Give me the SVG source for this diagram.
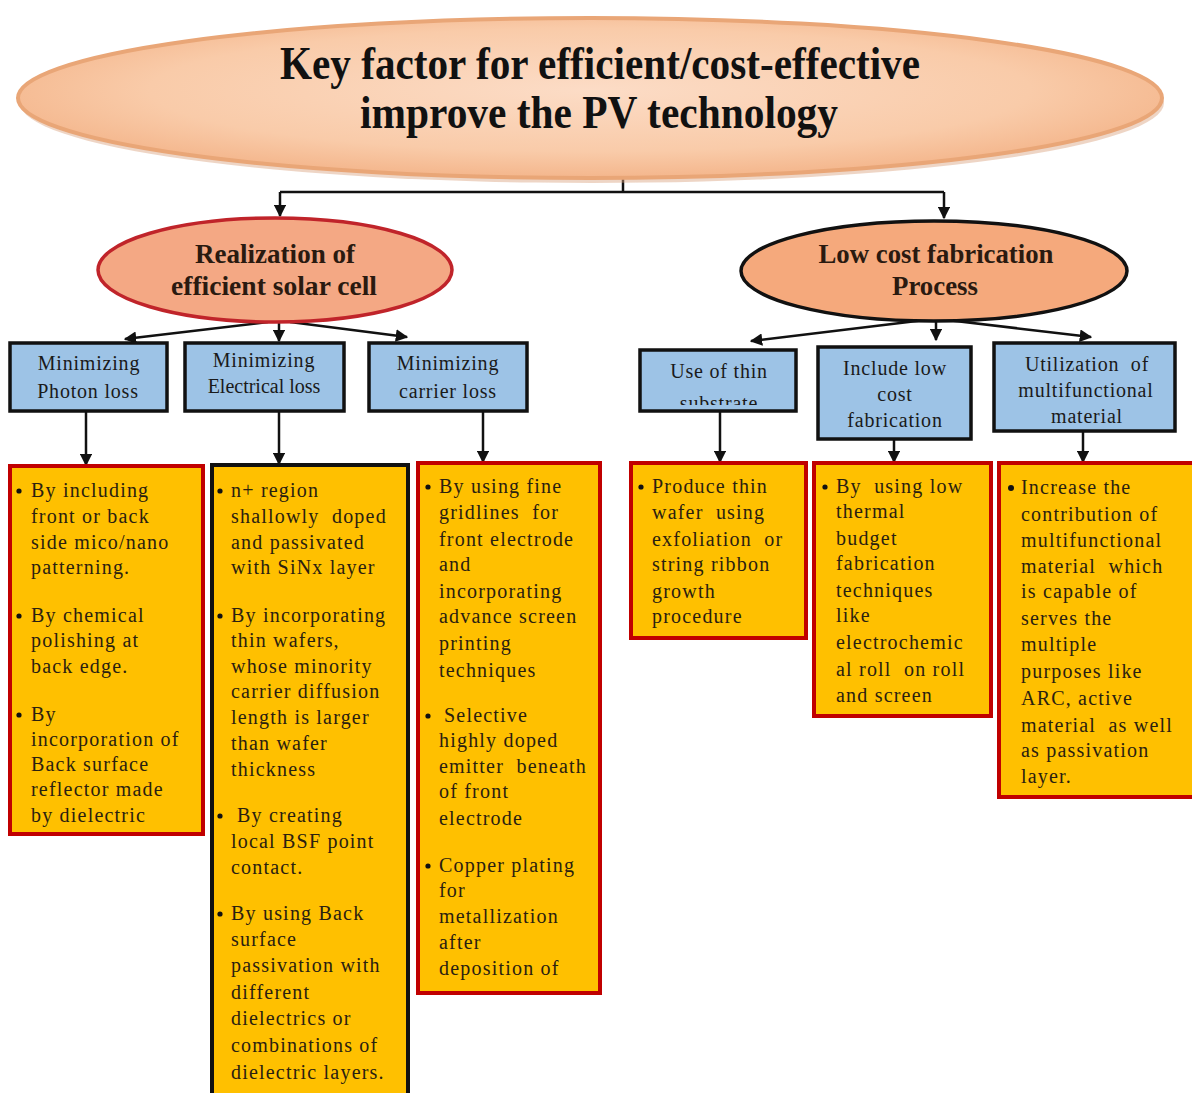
<svg xmlns="http://www.w3.org/2000/svg" width="1192" height="1093" viewBox="0 0 1192 1093">
<style>
  text{white-space:pre}
  .title{font-family:"Liberation Serif","Times New Roman",serif;font-weight:bold;font-size:46px;fill:#111;text-anchor:middle}
  .sub{font-family:"Liberation Serif","Times New Roman",serif;font-weight:bold;font-size:27px;fill:#2a1a10;text-anchor:middle}
  .blue{fill:#9DC3E6;stroke:#111;stroke-width:3.5}
  .bt{font-family:"Liberation Serif","Times New Roman",serif;font-size:20px;fill:#1a1a1a;text-anchor:middle;letter-spacing:0.8px}
  .org{fill:#FFC000;stroke:#C00000;stroke-width:4}
  .orgk{fill:#FFC000;stroke:#111;stroke-width:4}
  .ot{font-family:"Liberation Serif","Times New Roman",serif;font-size:20px;fill:#2a2010;letter-spacing:1.2px}
  .bu{fill:#111}
  .con{stroke:#111;stroke-width:2.5;fill:none}
</style>
<defs>
  <radialGradient id="pg" cx="50%" cy="45%" r="55%">
    <stop offset="0" stop-color="#FCDCC6"/>
    <stop offset="0.7" stop-color="#F9CBA9"/>
    <stop offset="1" stop-color="#F4B68C"/>
  </radialGradient>
  <marker id="ah" viewBox="0 0 10 10" refX="9" refY="5" markerWidth="5" markerHeight="5" orient="auto" markerUnits="strokeWidth">
    <path d="M0,0 L10,5 L0,10 z" fill="#111"/>
  </marker>
  <clipPath id="clip4"><rect x="640" y="350" width="156" height="55"/></clipPath>
</defs>
<rect width="1192" height="1093" fill="#fff"/>

<g id="connectors">
  <line class="con" x1="623" y1="170" x2="623" y2="192"/>
  <line class="con" x1="280" y1="192" x2="944" y2="192"/>
  <line class="con" x1="280" y1="192" x2="280" y2="216" marker-end="url(#ah)"/>
  <line class="con" x1="944" y1="192" x2="944" y2="218" marker-end="url(#ah)"/>
  <line class="con" x1="268" y1="322" x2="125" y2="339" marker-end="url(#ah)"/>
  <line class="con" x1="279" y1="322" x2="279" y2="341" marker-end="url(#ah)"/>
  <line class="con" x1="290" y1="322" x2="407" y2="337" marker-end="url(#ah)"/>
  <line class="con" x1="925" y1="320" x2="751" y2="341" marker-end="url(#ah)"/>
  <line class="con" x1="936" y1="320" x2="936" y2="340" marker-end="url(#ah)"/>
  <line class="con" x1="947" y1="320" x2="1091" y2="337" marker-end="url(#ah)"/>
  <line class="con" x1="86" y1="412" x2="86" y2="465" marker-end="url(#ah)"/>
  <line class="con" x1="279" y1="412" x2="279" y2="464" marker-end="url(#ah)"/>
  <line class="con" x1="483" y1="405" x2="483" y2="462" marker-end="url(#ah)"/>
  <line class="con" x1="720" y1="404" x2="720" y2="462" marker-end="url(#ah)"/>
  <line class="con" x1="894" y1="432" x2="894" y2="462" marker-end="url(#ah)"/>
  <line class="con" x1="1083" y1="432" x2="1083" y2="462" marker-end="url(#ah)"/>
</g>

<g id="root">
  <ellipse cx="592" cy="103" rx="572" ry="80" fill="#D9A27E" opacity="0.45"/>
  <ellipse cx="590" cy="98" rx="572" ry="80" fill="url(#pg)" stroke="#E9A677" stroke-width="4"/>
  <text class="title" x="600" y="79" textLength="640" lengthAdjust="spacingAndGlyphs">Key factor for efficient/cost-effective</text>
  <text class="title" x="599" y="128" textLength="478" lengthAdjust="spacingAndGlyphs">improve the PV technology</text>
</g>

<g id="realization">
  <ellipse cx="275" cy="270" rx="177" ry="52" fill="#F4A884" stroke="#C0242A" stroke-width="3.5"/>
  <text class="sub" x="275" y="263" textLength="160" lengthAdjust="spacingAndGlyphs">Realization of</text>
  <text class="sub" x="274" y="295" textLength="206" lengthAdjust="spacingAndGlyphs">efficient solar cell</text>
</g>

<g id="lowcost">
  <ellipse cx="934" cy="271" rx="193" ry="50" fill="#F5A97C" stroke="#111" stroke-width="3.5"/>
  <text class="sub" x="936" y="263" textLength="235" lengthAdjust="spacingAndGlyphs">Low cost fabrication</text>
  <text class="sub" x="935" y="295" textLength="86" lengthAdjust="spacingAndGlyphs">Process</text>
</g>

<g id="photon">
  <rect class="blue" x="10" y="343" width="157" height="68"/>
  <text class="bt" x="89" y="370">Minimizing</text>
  <text class="bt" x="88" y="398">Photon loss</text>
</g>
<g id="electrical">
  <rect class="blue" x="185" y="343" width="159" height="68"/>
  <text class="bt" x="264" y="367">Minimizing</text>
  <text class="bt" x="264" y="393" style="letter-spacing:0px">Electrical loss</text>
</g>
<g id="carrier">
  <rect class="blue" x="369" y="343" width="158" height="68"/>
  <text class="bt" x="448" y="370">Minimizing</text>
  <text class="bt" x="448" y="398">carrier loss</text>
</g>
<g id="thin">
  <rect class="blue" x="640" y="350" width="156" height="61"/>
  <g clip-path="url(#clip4)">
    <text class="bt" x="719" y="378">Use of thin</text>
    <text class="bt" x="719" y="410">substrate</text>
  </g>
</g>
<g id="include">
  <rect class="blue" x="818" y="347" width="153" height="92"/>
  <text class="bt" x="895" y="375">Include low</text>
  <text class="bt" x="895" y="401">cost</text>
  <text class="bt" x="895" y="427">fabrication</text>
</g>
<g id="utilization">
  <rect class="blue" x="994" y="343" width="181" height="88"/>
  <text class="bt" x="1087" y="371">Utilization  of</text>
  <text class="bt" x="1086" y="397">multifunctional</text>
  <text class="bt" x="1087" y="423">material</text>
</g>

<g id="photon-detail">
  <rect class="org" x="10" y="466" width="193" height="368"/>
  <circle class="bu" cx="19" cy="491" r="2.6"/>
  <text class="ot" x="31" y="497">By including</text>
  <text class="ot" x="31" y="523">front or back</text>
  <text class="ot" x="31" y="549">side mico/nano</text>
  <text class="ot" x="31" y="574">patterning.</text>
  <circle class="bu" cx="19" cy="616" r="2.6"/>
  <text class="ot" x="31" y="622">By chemical</text>
  <text class="ot" x="31" y="647">polishing at</text>
  <text class="ot" x="31" y="673">back edge.</text>
  <circle class="bu" cx="19" cy="715" r="2.6"/>
  <text class="ot" x="31" y="721">By</text>
  <text class="ot" x="31" y="746">incorporation of</text>
  <text class="ot" x="31" y="771">Back surface</text>
  <text class="ot" x="31" y="796">reflector made</text>
  <text class="ot" x="31" y="822">by dielectric</text>
</g>

<g id="electrical-detail">
  <rect class="orgk" x="212" y="465" width="196" height="640"/>
  <circle class="bu" cx="220" cy="491" r="2.6"/>
  <text class="ot" x="231" y="497">n+ region</text>
  <text class="ot" x="231" y="523">shallowly  doped</text>
  <text class="ot" x="231" y="549">and passivated</text>
  <text class="ot" x="231" y="574">with SiNx layer</text>
  <circle class="bu" cx="220" cy="616" r="2.6"/>
  <text class="ot" x="231" y="622">By incorporating</text>
  <text class="ot" x="231" y="647">thin wafers,</text>
  <text class="ot" x="231" y="673">whose minority</text>
  <text class="ot" x="231" y="698">carrier diffusion</text>
  <text class="ot" x="231" y="724">length is larger</text>
  <text class="ot" x="231" y="750">than wafer</text>
  <text class="ot" x="231" y="776">thickness</text>
  <circle class="bu" cx="220" cy="816" r="2.6"/>
  <text class="ot" x="237" y="822">By creating</text>
  <text class="ot" x="231" y="848">local BSF point</text>
  <text class="ot" x="231" y="874">contact.</text>
  <circle class="bu" cx="220" cy="914" r="2.6"/>
  <text class="ot" x="231" y="920">By using Back</text>
  <text class="ot" x="231" y="946">surface</text>
  <text class="ot" x="231" y="972">passivation with</text>
  <text class="ot" x="231" y="999">different</text>
  <text class="ot" x="231" y="1025">dielectrics or</text>
  <text class="ot" x="231" y="1052">combinations of</text>
  <text class="ot" x="231" y="1079">dielectric layers.</text>
</g>

<g id="carrier-detail">
  <rect class="org" x="418" y="463" width="182" height="530"/>
  <circle class="bu" cx="428" cy="487" r="2.6"/>
  <text class="ot" x="439" y="493">By using fine</text>
  <text class="ot" x="439" y="519">gridlines  for</text>
  <text class="ot" x="439" y="546">front electrode</text>
  <text class="ot" x="439" y="571">and</text>
  <text class="ot" x="439" y="598">incorporating</text>
  <text class="ot" x="439" y="623">advance screen</text>
  <text class="ot" x="439" y="650">printing</text>
  <text class="ot" x="439" y="677">techniques</text>
  <circle class="bu" cx="428" cy="716" r="2.6"/>
  <text class="ot" x="444" y="722">Selective</text>
  <text class="ot" x="439" y="747">highly doped</text>
  <text class="ot" x="439" y="773">emitter  beneath</text>
  <text class="ot" x="439" y="798">of front</text>
  <text class="ot" x="439" y="825">electrode</text>
  <circle class="bu" cx="428" cy="866" r="2.6"/>
  <text class="ot" x="439" y="872">Copper plating</text>
  <text class="ot" x="439" y="897">for</text>
  <text class="ot" x="439" y="923">metallization</text>
  <text class="ot" x="439" y="949">after</text>
  <text class="ot" x="439" y="975">deposition of</text>
</g>

<g id="thin-detail">
  <rect class="org" x="631" y="463" width="175" height="175"/>
  <circle class="bu" cx="641" cy="487" r="2.6"/>
  <text class="ot" x="652" y="493">Produce thin</text>
  <text class="ot" x="652" y="519">wafer  using</text>
  <text class="ot" x="652" y="546">exfoliation  or</text>
  <text class="ot" x="652" y="571">string ribbon</text>
  <text class="ot" x="652" y="598">growth</text>
  <text class="ot" x="652" y="623">procedure</text>
</g>

<g id="include-detail">
  <rect class="org" x="814" y="463" width="177" height="253"/>
  <circle class="bu" cx="825" cy="487" r="2.6"/>
  <text class="ot" x="836" y="493">By  using low</text>
  <text class="ot" x="836" y="518">thermal</text>
  <text class="ot" x="836" y="545">budget</text>
  <text class="ot" x="836" y="570">fabrication</text>
  <text class="ot" x="836" y="597">techniques</text>
  <text class="ot" x="836" y="622">like</text>
  <text class="ot" x="836" y="649">electrochemic</text>
  <text class="ot" x="836" y="676">al roll  on roll</text>
  <text class="ot" x="836" y="702">and screen</text>
</g>

<g id="utilization-detail">
  <rect class="org" x="999" y="463" width="196" height="334"/>
  <circle class="bu" cx="1011" cy="488" r="3"/>
  <text class="ot" x="1021" y="494">Increase the</text>
  <text class="ot" x="1021" y="521">contribution of</text>
  <text class="ot" x="1021" y="547">multifunctional</text>
  <text class="ot" x="1021" y="573">material  which</text>
  <text class="ot" x="1021" y="598">is capable of</text>
  <text class="ot" x="1021" y="625">serves the</text>
  <text class="ot" x="1021" y="651">multiple</text>
  <text class="ot" x="1021" y="678">purposes like</text>
  <text class="ot" x="1021" y="705">ARC, active</text>
  <text class="ot" x="1021" y="732">material  as well</text>
  <text class="ot" x="1021" y="757">as passivation</text>
  <text class="ot" x="1021" y="783">layer.</text>
</g>
</svg>
